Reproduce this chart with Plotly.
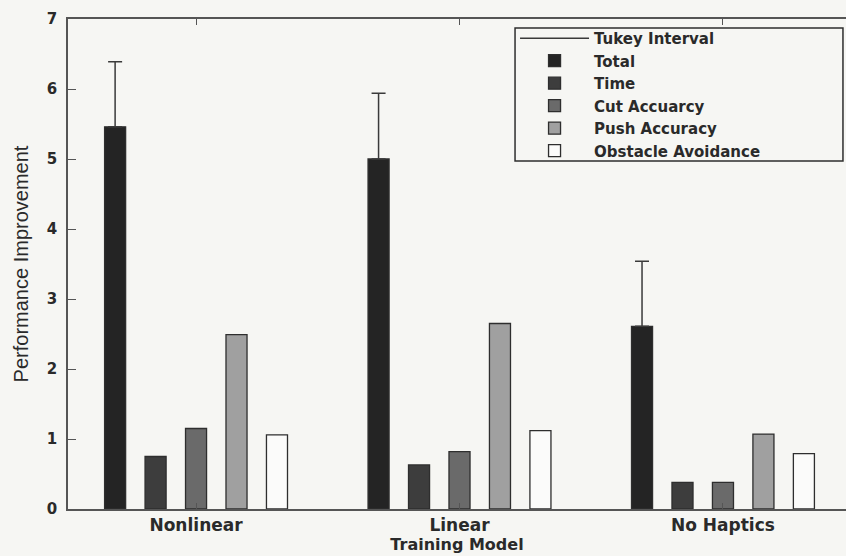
import plotly.graph_objects as go

categories = ["Nonlinear", "Linear", "No Haptics"]
total = [5.46, 5.00, 2.61]
tukey_half = [0.93, 0.94, 0.93]
time_vals = [0.75, 0.63, 0.38]
cut_acc = [1.15, 0.82, 0.38]
push_acc = [2.49, 2.65, 1.07]
obstacle = [1.06, 1.12, 0.79]
y_ticks = [0, 1, 2, 3, 4, 5, 6, 7]

BG = "#f6f6f3"
LINE = "#3a3a3a"

fig = go.Figure()

# legend-only entry for the Tukey interval line
fig.add_trace(go.Scatter(
    x=[None], y=[None], mode="lines", name="Tukey Interval",
    line=dict(color=LINE, width=1.5), showlegend=True, hoverinfo="skip"))

series = [
    ("Total", total, "#242424"),
    ("Time", time_vals, "#3d3d3d"),
    ("Cut Accuarcy", cut_acc, "#6a6a6a"),
    ("Push Accuracy", push_acc, "#a0a0a0"),
    ("Obstacle Avoidance", obstacle, "#fbfbfa"),
]
for name, vals, col in series:
    kw = {}
    if name == "Total":
        kw["error_y"] = dict(type="data", array=tukey_half, arrayminus=[0] * len(tukey_half),
                             symmetric=False, color=LINE, thickness=1.5, width=7)
    fig.add_trace(go.Bar(
        x=categories, y=vals, name=name,
        marker=dict(color=col, line=dict(color="#2e2e2e", width=1.3)),
        **kw))

fig.update_layout(
    width=846, height=556,
    margin=dict(l=68, r=0, t=19, b=47),
    paper_bgcolor=BG, plot_bgcolor=BG,
    barmode="group", bargap=0.232, bargroupgap=0.48,
    font=dict(family="DejaVu Sans", color="#2a2a2a"),
    showlegend=True,
    legend=dict(
        x=0.5746, y=0.994, xanchor="left", yanchor="top",
        bgcolor="rgba(0,0,0,0)", borderwidth=0,
        font=dict(family="DejaVu Sans", size=15, weight="bold", color="#2a2a2a"),
        itemwidth=69, tracegroupgap=0, traceorder="normal",
    ),
    shapes=[dict(
        type="rect", xref="paper", yref="paper",
        x0=0.5746, x1=0.9961, y0=0.7102, y1=0.9816,
        line=dict(color="#2e2e2e", width=1.5), fillcolor="rgba(0,0,0,0)", layer="above",
    )],
)

fig.update_xaxes(
    type="category", range=[-0.486, 2.467], automargin=False,
    showline=True, linecolor="#555555", linewidth=1.8, mirror="ticks",
    ticks="inside", ticklen=6, tickcolor="#555555",
    tickfont=dict(family="DejaVu Sans", size=17, weight="bold", color="#2a2a2a"),
    showgrid=False, zeroline=False,
    title=dict(text="Training Model", standoff=2,
               font=dict(family="DejaVu Sans", size=16, weight="bold", color="#2a2a2a")),
)
fig.update_yaxes(
    range=[0, 7], tickvals=y_ticks, ticktext=[str(v) for v in y_ticks], automargin=False,
    showline=True, linecolor="#555555", linewidth=1.8,
    ticks="inside", ticklen=8, tickcolor="#555555",
    tickfont=dict(family="DejaVu Sans", size=15, weight="bold", color="#2a2a2a"),
    ticklabelstandoff=6,
    showgrid=False, zeroline=False,
    title=dict(text="Performance Improvement", standoff=13,
               font=dict(family="Liberation Sans", size=20, color="#2a2a2a")),
)

fig.write_html(
    "out.html",
    config={"displayModeBar": False},
    post_script="document.body.style.margin='0px';document.body.style.overflow='hidden';",
)
